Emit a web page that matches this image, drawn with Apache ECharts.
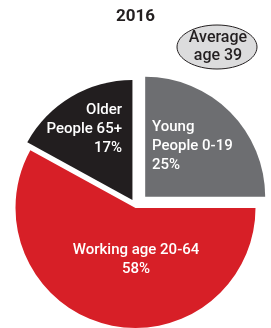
<!DOCTYPE html>
<html>
<head>
<meta charset="utf-8">
<script src="https://cdn.jsdelivr.net/npm/echarts@6/dist/echarts.min.js"></script>
<style>
  html, body { margin: 0; padding: 0; background: #fff; }
  #chart { width: 271px; height: 328px; }
</style>
</head>
<body>
<div id="chart"></div>
<script>
var groups = ['Young\nPeople 0-19', 'Working age 20-64', 'Older\nPeople 65+'];
var shares = [25, 58, 17];
var colors = ['#6d6e71', '#d71f27', '#221e1f'];
// how far each slice is pulled out of the pie
var pullOut = [13, 2, 7];
// label anchors: [x, y, align]
var labelSpots = [[152, 146, 'left'], [136, 260, 'center'], [122, 129, 'right']];

var pieCenter = [136, 206];
var pieRadius = 120;

function sliceSeries(k) {
    return {
        type: 'pie',
        center: pieCenter,
        radius: [0, pieRadius],
        startAngle: 90,
        clockwise: true,
        selectedMode: 'multiple',
        selectedOffset: pullOut[k],
        emphasis: { disabled: true },
        silent: true,
        label: { show: false },
        labelLine: { show: false },
        data: groups.map(function (g, i) {
            return {
                name: g,
                value: shares[i],
                selected: i === k,
                itemStyle: { color: i === k ? colors[i] : 'transparent' }
            };
        })
    };
}

// transparent copy of the pie that only carries the labels
var labelSeries = {
    type: 'pie',
    center: pieCenter,
    radius: [0, pieRadius],
    startAngle: 90,
    clockwise: true,
    emphasis: { disabled: true },
    silent: true,
    itemStyle: { color: 'transparent' },
    label: {
        show: true,
        position: 'inside',
        color: '#fff',
        fontFamily: 'Roboto',
        fontWeight: 500,
        fontSize: 15,
        lineHeight: 19,
        formatter: '{b}\n{d}%'
    },
    labelLine: { show: false },
    labelLayout: function (params) {
        var s = labelSpots[params.dataIndex];
        return { x: s[0], y: s[1], align: s[2], verticalAlign: 'middle' };
    },
    data: groups.map(function (g, i) {
        return { name: g, value: shares[i] };
    })
};

var myChart = echarts.init(document.getElementById('chart'));
var option = {
    animation: false,
    title: {
        text: '2016',
        left: 'center',
        top: 3,
        textStyle: { fontFamily: 'Roboto', fontSize: 17, fontWeight: 'bold', color: '#231f20' }
    },
    graphic: [
        {
            type: 'ellipse',
            shape: { cx: 217, cy: 47, rx: 40, ry: 22 },
            style: { fill: '#dcdcdd', stroke: '#231f20', lineWidth: 1 }
        },
        {
            type: 'text',
            x: 218, y: 47,
            style: {
                text: 'Average\nage 39', fill: '#231f20', font: '500 16px Roboto',
                align: 'center', verticalAlign: 'middle', lineHeight: 18
            }
        }
    ],
    series: [sliceSeries(0), sliceSeries(1), sliceSeries(2), labelSeries]
};
myChart.setOption(option);
</script>
</body>
</html>
